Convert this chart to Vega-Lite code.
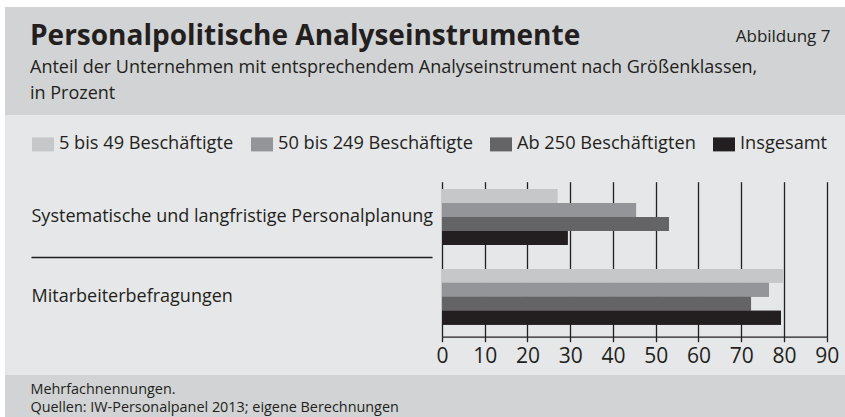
{
  "$schema": "https://vega.github.io/schema/vega-lite/v6.json",
  "width": 840,
  "height": 410,
  "autosize": "none",
  "padding": {"left": 5, "top": 7, "right": 0, "bottom": 0},
  "background": "white",
  "view": {
    "stroke": null,
    "fill": {
      "gradient": "linear",
      "x1": 0, "y1": 0, "x2": 0, "y2": 1,
      "stops": [
        {"offset": 0, "color": "#d1d3d4"},
        {"offset": 0.2634, "color": "#d1d3d4"},
        {"offset": 0.2634, "color": "#e6e7e8"},
        {"offset": 0.8976, "color": "#e6e7e8"},
        {"offset": 0.8976, "color": "#d1d3d4"},
        {"offset": 1, "color": "#d1d3d4"}
      ]
    }
  },
  "title": {
    "text": "Personalpolitische Analyseinstrumente",
    "subtitle": ["Anteil der Unternehmen mit entsprechendem Analyseinstrument nach Größenklassen,", "in Prozent"],
    "anchor": "start",
    "frame": "group",
    "orient": "top",
    "offset": -96,
    "dx": 25,
    "font": "Open Sans",
    "fontSize": 28,
    "fontWeight": "bold",
    "color": "#231f20",
    "subtitleFont": "Open Sans",
    "subtitleFontSize": 18,
    "subtitleColor": "#231f20",
    "subtitleLineHeight": 26,
    "subtitlePadding": 8
  },
  "data": {
    "values": [
      {"item": "Systematische und langfristige Personalplanung", "series": "5 bis 49 Beschäftigte", "value": 27},
      {"item": "Systematische und langfristige Personalplanung", "series": "50 bis 249 Beschäftigte", "value": 45.4},
      {"item": "Systematische und langfristige Personalplanung", "series": "Ab 250 Beschäftigten", "value": 53.1},
      {"item": "Systematische und langfristige Personalplanung", "series": "Insgesamt", "value": 29.4},
      {"item": "Mitarbeiterbefragungen", "series": "5 bis 49 Beschäftigte", "value": 80},
      {"item": "Mitarbeiterbefragungen", "series": "50 bis 249 Beschäftigte", "value": 76.5},
      {"item": "Mitarbeiterbefragungen", "series": "Ab 250 Beschäftigten", "value": 72.3},
      {"item": "Mitarbeiterbefragungen", "series": "Insgesamt", "value": 79.3}
    ]
  },
  "layer": [
    {
      "mark": {"type": "bar"},
      "encoding": {
        "y": {
          "field": "item",
          "type": "nominal",
          "sort": ["Systematische und langfristige Personalplanung", "Mitarbeiterbefragungen"],
          "scale": {"range": [174.7, 329.7], "paddingInner": 0.3, "paddingOuter": 0.12, "align": 0.38},
          "axis": {
            "orient": "left",
            "offset": -26,
            "domain": false,
            "grid": false,
            "ticks": true,
            "bandPosition": 0.5,
            "tickSize": -401,
            "tickOffset": 40,
            "tickColor": "#231f20",
            "tickWidth": 1.3,
            "tickOpacity": {"condition": {"test": "datum.value === 'Mitarbeiterbefragungen'", "value": 0}, "value": 1},
            "labelAlign": "left",
            "labelBaseline": "middle",
            "labelPadding": 401,
            "labelOffset": -40,
            "labelFont": "Open Sans",
            "labelFontSize": 18,
            "labelColor": "#231f20",
            "labelLimit": 600,
            "title": "Abbildung 7",
            "titleAngle": 0,
            "titleAlign": "right",
            "titleBaseline": "alphabetic",
            "titleX": 799,
            "titleY": 34,
            "titleFont": "Open Sans",
            "titleFontSize": 17,
            "titleFontWeight": "normal",
            "titleColor": "#231f20"
          }
        },
        "yOffset": {
          "field": "series",
          "type": "nominal",
          "sort": ["5 bis 49 Beschäftigte", "50 bis 249 Beschäftigte", "Ab 250 Beschäftigten", "Insgesamt"],
          "scale": {"paddingInner": 0, "paddingOuter": 0}
        },
        "x": {
          "field": "value",
          "type": "quantitative",
          "scale": {"domain": [0, 90], "range": [437, 821.7], "nice": false},
          "axis": {
            "orient": "bottom",
            "offset": -80.3,
            "values": [0, 10, 20, 30, 40, 50, 60, 70, 80, 90],
            "grid": false,
            "domain": true,
            "domainColor": "#231f20",
            "domainWidth": 1.3,
            "ticks": true,
            "tickSize": -155,
            "tickColor": "#231f20",
            "tickWidth": 1.3,
            "labelFont": "Open Sans",
            "labelFontSize": 21,
            "labelColor": "#231f20",
            "labelPadding": 164,
            "labelFlush": false,
            "labelOverlap": false,
            "title": ["Mehrfachnennungen.", "Quellen: IW-Personalpanel 2013; eigene Berechnungen"],
            "titleX": 25,
            "titleY": 46,
            "titleAlign": "left",
            "titleAnchor": "start",
            "titleBaseline": "top",
            "titleAngle": 0,
            "titleFont": "Open Sans",
            "titleFontSize": 14.4,
            "titleFontWeight": "normal",
            "titleLineHeight": 17.5,
            "titleColor": "#231f20"
          }
        },
        "color": {
          "field": "series",
          "type": "nominal",
          "scale": {
            "domain": ["5 bis 49 Beschäftigte", "50 bis 249 Beschäftigte", "Ab 250 Beschäftigten", "Insgesamt"],
            "range": ["#c6c7c9", "#939598", "#646466", "#231f20"]
          },
          "legend": {
            "orient": "none",
            "legendX": 27,
            "legendY": 126,
            "direction": "horizontal",
            "title": null,
            "symbolType": "M-1,-0.636H1V0.636H-1Z",
            "symbolSize": 484,
            "symbolStrokeWidth": 0,
            "symbolOpacity": 1,
            "labelFont": "Open Sans",
            "labelFontSize": 18.2,
            "labelColor": "#231f20",
            "labelOffset": 5,
            "labelLimit": 400,
            "columnPadding": 17,
            "padding": 0
          }
        }
      }
    },
    {
      "mark": {"type": "bar"},
      "encoding": {
        "y": {
          "field": "item",
          "type": "nominal",
          "sort": ["Systematische und langfristige Personalplanung", "Mitarbeiterbefragungen"]
        },
        "yOffset": {
          "field": "series",
          "type": "nominal",
          "sort": ["5 bis 49 Beschäftigte", "50 bis 249 Beschäftigte", "Ab 250 Beschäftigten", "Insgesamt"]
        },
        "x": {
          "field": "value",
          "type": "quantitative",
          "axis": {
            "orient": "bottom",
            "offset": -80.3,
            "values": [0, 10, 20, 30, 40, 50, 60, 70, 80, 90],
            "grid": false,
            "domain": false,
            "labels": false,
            "ticks": true,
            "tickSize": 5,
            "tickColor": "#231f20",
            "tickWidth": 1.3,
            "title": null
          }
        },
        "color": {"field": "series", "type": "nominal", "legend": null}
      }
    }
  ],
  "resolve": {"axis": {"x": "independent"}},
  "config": {
    "font": "Open Sans"
  }
}
